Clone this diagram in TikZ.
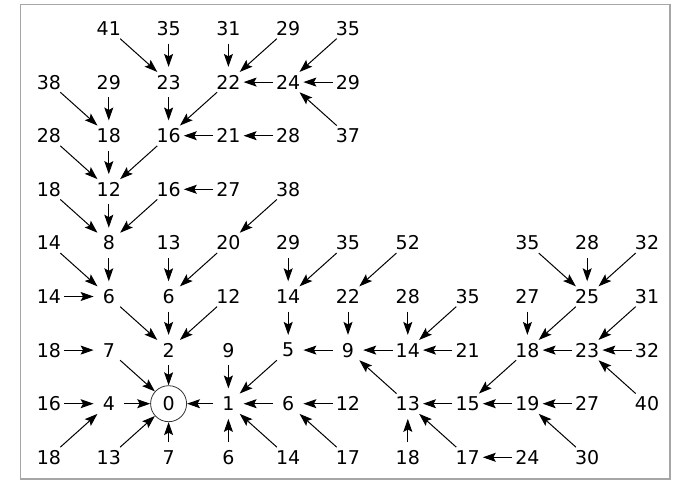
\documentclass[tikz,border=0pt]{standalone}
\usepackage{fontspec}
\setmainfont{DejaVu Sans}
\usetikzlibrary{arrows.meta}

\begin{document}
\begin{tikzpicture}[x=59.8pt, y=-53.6pt, >={Stealth[length=13pt, width=9pt, inset=2.5pt]},
    num/.style={circle, minimum size=30pt, inner sep=0pt, font=\fontsize{19}{22}\selectfont},
    root/.style={num, draw=black!80, line width=0.8pt, minimum size=36pt}]

    \useasboundingbox (-49pt,28.5pt) rectangle (626pt,-452.5pt);
    \draw[gray!70, line width=1.5pt] (-28.5pt,24pt) rectangle (621pt,-450.5pt);

    % row 0
    \node[num] (b0) at (1,0) {41};
    \node[num] (c0) at (2,0) {35};
    \node[num] (d0) at (3,0) {31};
    \node[num] (e0) at (4,0) {29};
    \node[num] (f0) at (5,0) {35};
    % row 1
    \node[num] (a1) at (0,1) {38};
    \node[num] (b1) at (1,1) {29};
    \node[num] (c1) at (2,1) {23};
    \node[num] (d1) at (3,1) {22};
    \node[num] (e1) at (4,1) {24};
    \node[num] (f1) at (5,1) {29};
    % row 2
    \node[num] (a2) at (0,2) {28};
    \node[num] (b2) at (1,2) {18};
    \node[num] (c2) at (2,2) {16};
    \node[num] (d2) at (3,2) {21};
    \node[num] (e2) at (4,2) {28};
    \node[num] (f2) at (5,2) {37};
    % row 3
    \node[num] (a3) at (0,3) {18};
    \node[num] (b3) at (1,3) {12};
    \node[num] (c3) at (2,3) {16};
    \node[num] (d3) at (3,3) {27};
    \node[num] (e3) at (4,3) {38};
    % row 4
    \node[num] (a4) at (0,4) {14};
    \node[num] (b4) at (1,4) {8};
    \node[num] (c4) at (2,4) {13};
    \node[num] (d4) at (3,4) {20};
    \node[num] (e4) at (4,4) {29};
    \node[num] (f4) at (5,4) {35};
    \node[num] (g4) at (6,4) {52};
    \node[num] (i4) at (8,4) {35};
    \node[num] (j4) at (9,4) {28};
    \node[num] (k4) at (10,4) {32};
    % row 5
    \node[num] (a5) at (0,5) {14};
    \node[num] (b5) at (1,5) {6};
    \node[num] (c5) at (2,5) {6};
    \node[num] (d5) at (3,5) {12};
    \node[num] (e5) at (4,5) {14};
    \node[num] (f5) at (5,5) {22};
    \node[num] (g5) at (6,5) {28};
    \node[num] (h5) at (7,5) {35};
    \node[num] (i5) at (8,5) {27};
    \node[num] (j5) at (9,5) {25};
    \node[num] (k5) at (10,5) {31};
    % row 6
    \node[num] (a6) at (0,6) {18};
    \node[num] (b6) at (1,6) {7};
    \node[num] (c6) at (2,6) {2};
    \node[num] (d6) at (3,6) {9};
    \node[num] (e6) at (4,6) {5};
    \node[num] (f6) at (5,6) {9};
    \node[num] (g6) at (6,6) {14};
    \node[num] (h6) at (7,6) {21};
    \node[num] (i6) at (8,6) {18};
    \node[num] (j6) at (9,6) {23};
    \node[num] (k6) at (10,6) {32};
    % row 7
    \node[num] (a7) at (0,7) {16};
    \node[num] (b7) at (1,7) {4};
    \node[root] (c7) at (2,7) {0};
    \node[num] (d7) at (3,7) {1};
    \node[num] (e7) at (4,7) {6};
    \node[num] (f7) at (5,7) {12};
    \node[num] (g7) at (6,7) {13};
    \node[num] (h7) at (7,7) {15};
    \node[num] (i7) at (8,7) {19};
    \node[num] (j7) at (9,7) {27};
    \node[num] (k7) at (10,7) {40};
    % row 8
    \node[num] (a8) at (0,8) {18};
    \node[num] (b8) at (1,8) {13};
    \node[num] (c8) at (2,8) {7};
    \node[num] (d8) at (3,8) {6};
    \node[num] (e8) at (4,8) {14};
    \node[num] (f8) at (5,8) {17};
    \node[num] (g8) at (6,8) {18};
    \node[num] (h8) at (7,8) {17};
    \node[num] (i8) at (8,8) {24};
    \node[num] (j8) at (9,8) {30};

    \path[->, line width=1pt]
    (b0) edge (c1)  (c0) edge (c1)  (d0) edge (d1)  (e0) edge (d1)  (f0) edge (e1)
    (e1) edge (d1)  (f1) edge (e1)  (f2) edge (e1)
    (a1) edge (b2)  (b1) edge (b2)  (c1) edge (c2)  (d1) edge (c2)
    (d2) edge (c2)  (e2) edge (d2)
    (a2) edge (b3)  (b2) edge (b3)  (c2) edge (b3)
    (d3) edge (c3)
    (a3) edge (b4)  (b3) edge (b4)  (c3) edge (b4)  (e3) edge (d4)
    (a4) edge (b5)  (b4) edge (b5)  (c4) edge (c5)  (d4) edge (c5)  (e4) edge (e5)
    (f4) edge (e5)  (g4) edge (f5)  (i4) edge (j5)  (j4) edge (j5)  (k4) edge (j5)
    (a5) edge (b5)  (b5) edge (c6)  (c5) edge (c6)  (d5) edge (c6)  (e5) edge (e6)
    (f5) edge (f6)  (g5) edge (g6)  (h5) edge (g6)  (i5) edge (i6)  (j5) edge (i6)
    (k5) edge (j6)
    (a6) edge (b6)  (b6) edge (c7)  (c6) edge (c7)  (d6) edge (d7)  (e6) edge (d7)
    (f6) edge (e6)  (g6) edge (f6)  (h6) edge (g6)  (j6) edge (i6)  (k6) edge (j6)
    (i6) edge (h7)
    (a7) edge (b7)  (b7) edge (c7)  (d7) edge (c7)  (e7) edge (d7)  (f7) edge (e7)
    (g7) edge (f6)  (h7) edge (g7)  (i7) edge (h7)  (j7) edge (i7)  (k7) edge (j6)
    (a8) edge (b7)  (b8) edge (c7)  (c8) edge (c7)  (d8) edge (d7)  (e8) edge (d7)
    (f8) edge (e7)  (g8) edge (g7)  (h8) edge (g7)  (i8) edge (h8)  (j8) edge (i7);

\end{tikzpicture}
\end{document}
